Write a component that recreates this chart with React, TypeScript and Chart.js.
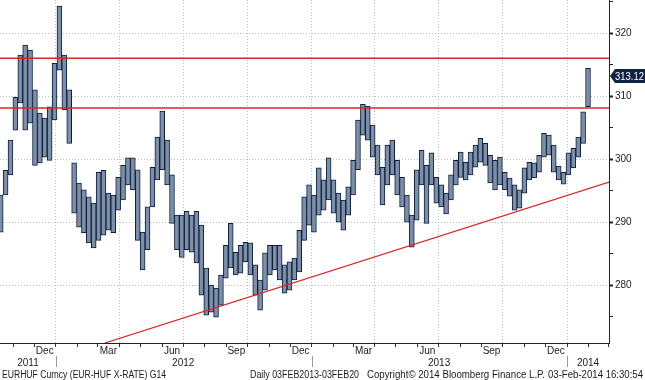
import React, { useEffect, useRef } from "react";
import { Chart, registerables } from "chart.js";

Chart.register(...registerables);

// ---------- data ----------
const WEEKS = [
  "2011-10-14","2011-10-21","2011-10-28","2011-11-04","2011-11-11","2011-11-18","2011-11-25","2011-12-02","2011-12-09","2011-12-16",
  "2011-12-23","2011-12-30","2012-01-06","2012-01-13","2012-01-20","2012-01-27","2012-02-03","2012-02-10","2012-02-17","2012-02-24",
  "2012-03-02","2012-03-09","2012-03-16","2012-03-23","2012-03-30","2012-04-06","2012-04-13","2012-04-20","2012-04-27","2012-05-04",
  "2012-05-11","2012-05-18","2012-05-25","2012-06-01","2012-06-08","2012-06-15","2012-06-22","2012-06-29","2012-07-06","2012-07-13",
  "2012-07-20","2012-07-27","2012-08-03","2012-08-10","2012-08-17","2012-08-24","2012-08-31","2012-09-07","2012-09-14","2012-09-21",
  "2012-09-28","2012-10-05","2012-10-12","2012-10-19","2012-10-26","2012-11-02","2012-11-09","2012-11-16","2012-11-23","2012-11-30",
  "2012-12-07","2012-12-14","2012-12-21","2012-12-28","2013-01-04","2013-01-11","2013-01-18","2013-01-25","2013-02-01","2013-02-08",
  "2013-02-15","2013-02-22","2013-03-01","2013-03-08","2013-03-15","2013-03-22","2013-03-29","2013-04-05","2013-04-12","2013-04-19",
  "2013-04-26","2013-05-03","2013-05-10","2013-05-17","2013-05-24","2013-05-31","2013-06-07","2013-06-14","2013-06-21","2013-06-28",
  "2013-07-05","2013-07-12","2013-07-19","2013-07-26","2013-08-02","2013-08-09","2013-08-16","2013-08-23","2013-08-30","2013-09-06",
  "2013-09-13","2013-09-20","2013-09-27","2013-10-04","2013-10-11","2013-10-18","2013-10-25","2013-11-01","2013-11-08","2013-11-15",
  "2013-11-22","2013-11-29","2013-12-06","2013-12-13","2013-12-20","2013-12-27","2014-01-03","2014-01-10","2014-01-17","2014-01-24",
  "2014-01-31"
];
const HIGHS = [
  294.3,298.2,303.0,309.8,316.5,318.1,317.3,311.0,307.3,306.5,
  308.3,315.2,324.3,316.5,311.0,299.4,296.2,295.1,294.0,293.0,
  297.9,298.2,294.6,294.3,297.1,299.0,300.2,300.2,298.3,288.4,
  292.4,298.7,303.5,307.6,303.0,297.5,291.1,291.1,291.7,291.1,
  291.7,289.5,282.7,280.0,279.5,281.6,286.3,289.8,285.2,286.3,
  286.8,286.7,283.2,280.8,285.1,286.3,286.3,286.3,283.2,283.7,
  284.3,288.7,294.0,295.9,294.3,298.6,296.7,300.2,296.7,294.6,
  293.5,295.6,299.8,306.2,308.7,308.4,305.4,302.2,298.7,302.2,
  303.0,299.8,297.1,294.3,291.1,298.3,301.4,299.0,301.0,297.1,
  295.9,294.6,297.5,299.8,301.1,299.5,301.1,302.2,303.3,302.5,
  300.6,299.8,300.3,297.9,297.0,295.9,295.1,298.6,299.5,299.4,
  300.6,304.1,303.8,302.2,298.9,297.9,301.0,301.7,303.5,307.5,
  314.4
];
const LOWS = [
  288.4,294.3,297.5,304.6,308.9,304.6,305.7,299.0,299.4,300.3,
  299.8,306.2,314.1,307.8,302.5,291.4,289.2,288.3,286.7,285.9,
  287.1,287.9,288.7,288.3,291.9,293.5,295.9,295.1,287.1,282.4,
  285.6,292.4,296.7,298.3,295.9,289.8,285.6,284.4,285.6,285.2,
  283.5,278.4,275.2,275.7,274.9,276.8,281.1,282.7,281.6,281.9,
  283.7,281.6,278.4,276.0,279.2,281.6,282.4,280.8,278.7,279.2,
  280.8,282.1,287.1,289.5,288.4,291.1,291.9,293.5,291.4,290.0,
  288.7,291.1,294.3,298.3,303.8,303.0,300.3,297.5,292.7,295.9,
  297.5,294.3,292.4,290.0,286.0,290.3,295.9,289.8,295.9,293.0,
  292.4,291.3,293.5,295.9,297.1,296.7,297.5,298.7,299.5,299.0,
  296.2,295.1,295.9,295.1,294.1,291.9,292.2,294.6,296.7,297.0,
  297.9,300.3,300.6,297.9,296.7,296.0,297.5,298.6,300.3,302.5,
  308.3
];
const LAST_PRICE = 313.12;
const RESISTANCE_UPPER = 316.0;
const RESISTANCE_LOWER = 308.1;
const TREND_DATES = ["2012-03-11", "2014-03-02"];
const TREND_VALUES = [270.8, 296.35];
const X_RANGE = ["2011-10-13", "2014-03-02"];
const Y_RANGE = [270.8, 325.25];
const Y_TICKS = [275, 280, 285, 290, 295, 300, 305, 310, 315, 320, 325];
const MONTH_TICKS = [
  "2011-11-01","2011-12-01","2012-01-01","2012-02-01","2012-03-01","2012-04-01","2012-05-01","2012-06-01",
  "2012-07-01","2012-08-01","2012-09-01","2012-10-01","2012-11-01","2012-12-01","2013-01-01","2013-02-01",
  "2013-03-01","2013-04-01","2013-05-01","2013-06-01","2013-07-01","2013-08-01","2013-09-01","2013-10-01",
  "2013-11-01","2013-12-01","2014-01-01","2014-02-01","2014-03-01"
];
const MONTH_LABELS = ["Dec", "Mar", "Jun", "Sep", "Dec", "Mar", "Jun", "Sep", "Dec"];
const MONTH_LABEL_DATES = ["2011-12-16","2012-03-16","2012-06-15","2012-09-15","2012-12-16","2013-03-16","2013-06-15","2013-09-15","2013-12-16"];
const YEAR_LABELS = ["2011", "2012", "2013", "2014"];
const YEAR_LABEL_DATES = ["2011-11-22", "2012-07-01", "2013-07-02", "2014-01-31"];
const YEAR_SEPARATORS = ["2012-01-01", "2013-01-01", "2014-01-01"];
const FOOTER_LEFT = "EURHUF Curncy (EUR-HUF X-RATE) G14";
const FOOTER_RANGE = "Daily 03FEB2013-03FEB20";
const FOOTER_COPY = "Copyright\u00A9 2014 Bloomberg Finance L.P.";
const FOOTER_TIME = "03-Feb-2014 16:30:54";

// ---------- helpers ----------
const BASE = Date.UTC(2012, 0, 1);
const toDay = (s: string) => (Date.parse(s + "T00:00:00Z") - BASE) / 86400000;
const monthOf = (day: number) => new Date(BASE + Math.round(day) * 86400000).getUTCMonth();

const FONT = '"Liberation Sans", Arial, sans-serif';
const GRID = "#bcbcbc";
const RED = "#d8262b";
const NAVY = "#0d1e3a";

const overlayPlugin = {
  id: "bbgOverlay",
  afterDraw(chart: any) {
    const { ctx, chartArea, scales } = chart;
    const x = scales.x;
    const y = scales.y;
    ctx.save();
    ctx.fillStyle = "#222";
    ctx.font = `10px ${FONT}`;
    ctx.textBaseline = "alphabetic";
    ctx.textAlign = "center";
    MONTH_LABELS.forEach((t, i) => {
      ctx.fillText(t, x.getPixelForValue(toDay(MONTH_LABEL_DATES[i])), 354);
    });
    YEAR_LABELS.forEach((t, i) => {
      ctx.fillText(t, x.getPixelForValue(toDay(YEAR_LABEL_DATES[i])), 366);
    });
    ctx.strokeStyle = "#9a9a9a";
    ctx.lineWidth = 1;
    YEAR_SEPARATORS.forEach((d) => {
      const px = Math.round(x.getPixelForValue(toDay(d))) + 0.5;
      ctx.beginPath();
      ctx.moveTo(px, 356);
      ctx.lineTo(px, 367);
      ctx.stroke();
    });
    // footer
    ctx.textAlign = "left";
    ctx.fillStyle = "#1a1a1a";
    ctx.fillText(FOOTER_LEFT, 2, 378, 164);
    ctx.fillText(FOOTER_RANGE, 250, 378, 109);
    ctx.fillText(FOOTER_COPY, 367, 378, 178);
    ctx.fillText(FOOTER_TIME, 548, 378, 95);
    // last price tag
    const py = Math.round(y.getPixelForValue(LAST_PRICE));
    const x0 = chartArea.right + 1;
    ctx.fillStyle = "#0f2242";
    ctx.beginPath();
    ctx.moveTo(x0, py);
    ctx.lineTo(x0 + 5, py - 7);
    ctx.lineTo(chart.width, py - 7);
    ctx.lineTo(chart.width, py + 7);
    ctx.lineTo(x0 + 5, py + 7);
    ctx.closePath();
    ctx.fill();
    ctx.fillStyle = "#ffffff";
    ctx.font = `11px ${FONT}`;
    ctx.textBaseline = "middle";
    ctx.fillText(LAST_PRICE.toFixed(2), x0 + 5, py + 0.5, chart.width - x0 - 6);
    ctx.restore();
  },
};

export default function App() {
  const ref = useRef<HTMLCanvasElement | null>(null);
  useEffect(() => {
    document.body.style.margin = "0";
    const canvas = ref.current;
    if (!canvas) return;
    const xMin = toDay(X_RANGE[0]);
    const xMax = toDay(X_RANGE[1]);
    const hLine = (v: number) => [
      { x: xMin, y: v },
      { x: xMax, y: v },
    ];
    const chart = new Chart(canvas, {
      type: "bar",
      data: {
        datasets: [
          {
            type: "line",
            data: hLine(RESISTANCE_UPPER),
            borderColor: RED,
            borderWidth: 1.5,
            pointRadius: 0,
            order: 0,
          } as any,
          {
            type: "line",
            data: hLine(RESISTANCE_LOWER),
            borderColor: RED,
            borderWidth: 1.5,
            pointRadius: 0,
            order: 0,
          } as any,
          {
            type: "line",
            data: TREND_DATES.map((d, i) => ({ x: toDay(d), y: TREND_VALUES[i] })),
            borderColor: RED,
            borderWidth: 1.3,
            pointRadius: 0,
            order: 0,
          } as any,
          {
            type: "bar",
            data: WEEKS.map((d, i) => ({ x: toDay(d), y: [LOWS[i], HIGHS[i]] })),
            backgroundColor: "#7d8fa8",
            borderColor: NAVY,
            borderWidth: 1,
            borderSkipped: false,
            barThickness: 4.9,
            grouped: false,
            order: 2,
          } as any,
        ],
      },
      options: {
        animation: false,
        responsive: false,
        devicePixelRatio: 1,
        layout: { padding: 0 },
        plugins: { legend: { display: false }, tooltip: { enabled: false } },
        scales: {
          x: {
            type: "linear",
            min: xMin,
            max: xMax,
            offset: false,
            grid: {
              offset: false,
              color: (c: any) =>
                c.tick && [0, 3, 6, 9].includes(monthOf(c.tick.value)) ? GRID : "rgba(0,0,0,0)",
              tickColor: "#333",
              tickLength: 4,
              lineWidth: 1,
            },
            border: { display: true, color: "#222", width: 1, dash: [1, 2] },
            ticks: { callback: () => "", autoSkip: false, maxRotation: 0, padding: 0 },
            afterBuildTicks: (s: any) => {
              s.ticks = MONTH_TICKS.map((d) => ({ value: toDay(d) }));
            },
            afterFit: (s: any) => {
              s.height = 37;
              s.paddingLeft = 0;
              s.paddingRight = 0;
            },
          },
          y: {
            type: "linear",
            position: "right",
            min: Y_RANGE[0],
            max: Y_RANGE[1],
            grid: {
              color: (c: any) => (c.tick && c.tick.value % 10 === 0 ? GRID : "rgba(0,0,0,0)"),
              tickColor: "#222",
              tickLength: 4,
              tickWidth: (c: any) => (c.tick && c.tick.value % 10 === 0 ? 2 : 1),
              lineWidth: 1,
            },
            border: { display: true, color: "#222", width: 1, dash: [1, 2] },
            ticks: {
              autoSkip: false,
              padding: 2,
              color: "#222",
              font: { family: FONT, size: 10 },
              callback: (v: any) => (Number(v) % 10 === 0 ? String(v) : ""),
            },
            afterBuildTicks: (s: any) => {
              s.ticks = Y_TICKS.map((v) => ({ value: v }));
            },
            afterFit: (s: any) => {
              s.width = 36;
              s.paddingTop = 0;
              s.paddingBottom = 0;
            },
          },
        },
      } as any,
      plugins: [overlayPlugin],
    });
    return () => chart.destroy();
  }, []);
  return (
    <div style={{ width: 645, height: 380, background: "#fff" }}>
      <canvas ref={ref} width={645} height={380} style={{ display: "block" }} />
    </div>
  );
}
